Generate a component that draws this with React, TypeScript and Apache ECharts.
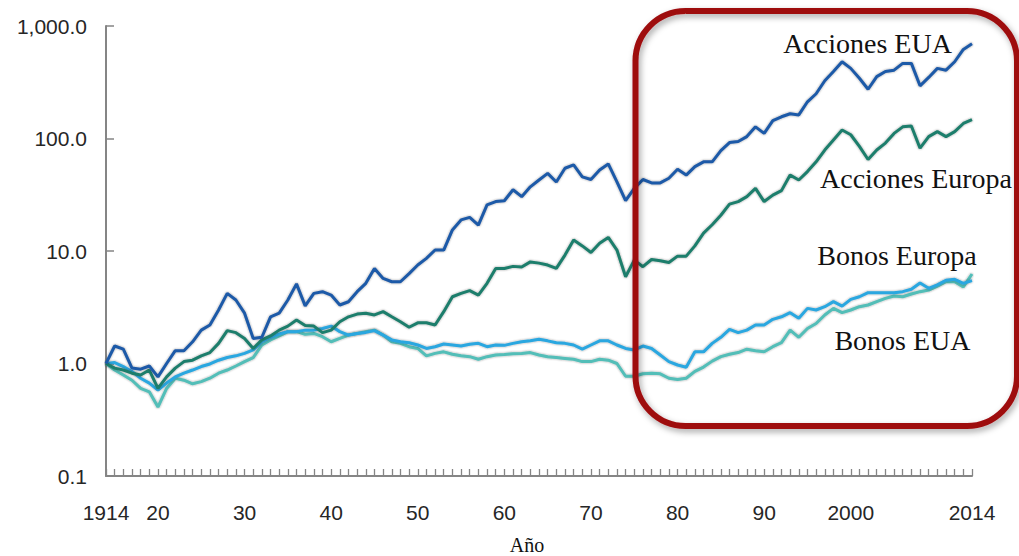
import React, { useEffect, useRef } from "react";
import * as echarts from "echarts";

// Years on the horizontal axis, 1914 through 2014
const years: number[] = Array.from({ length: 101 }, (_, i) => 1914 + i);

// Tick labels shown under the x axis
const xTickLabels: Record<number, string> = {
  1914: "1914",
  1920: "20",
  1930: "30",
  1940: "40",
  1950: "50",
  1960: "60",
  1970: "70",
  1980: "80",
  1990: "90",
  2000: "2000",
  2014: "2014",
};

// Tick labels on the logarithmic y axis (0.1 … 1,000)
const yTickLabels: string[] = ["0.1", "1.0", "10.0", "100.0", "1,000.0"];

// Cumulative value of 1 unit invested in 1914
const accionesEUA: number[] = [
  1.0, 1.43, 1.34, 0.91, 0.89, 0.95, 0.76, 1.0, 1.3, 1.3,
  1.56, 1.98, 2.2, 2.99, 4.2, 3.67, 2.8, 1.67, 1.71, 2.6,
  2.8, 3.67, 5.1, 3.25, 4.2, 4.35, 4.06, 3.31, 3.54, 4.35,
  5.16, 7.0, 5.7, 5.33, 5.33, 6.3, 7.5, 8.6, 10.2, 10.2,
  15.4, 18.9, 19.9, 17.0, 25.7, 27.5, 28.0, 35.0, 30.4, 37.2,
  42.8, 49.0, 41.1, 54.4, 58.2, 45.6, 43.2, 52.4, 59.4, 41.1,
  28.0, 36.0, 43.2, 40.3, 40.3, 44.3, 53.3, 47.3, 56.2, 62,
  62, 78, 92, 94, 104, 127, 111, 144, 156, 166,
  162, 212, 250, 326, 394, 481, 420, 343, 274, 355,
  394, 405, 465, 465, 294, 349, 420, 405, 481, 619,
  695,
];

const accionesEuropa: number[] = [
  1.0, 0.91, 0.875, 0.82, 0.79, 0.875, 0.6, 0.76, 0.91, 1.04,
  1.07, 1.17, 1.25, 1.51, 1.96, 1.88, 1.67, 1.36, 1.62, 1.76,
  1.98, 2.15, 2.44, 2.18, 2.15, 1.88, 1.98, 2.35, 2.6, 2.75,
  2.8, 2.7, 2.89, 2.6, 2.35, 2.1, 2.3, 2.3, 2.2, 2.89,
  3.92, 4.2, 4.44, 4.06, 5.16, 7.0, 7.0, 7.3, 7.2, 8.0,
  7.8, 7.5, 7.0, 9.2, 12.5, 11.1, 9.7, 11.7, 13.2, 10.2,
  5.9, 8.3, 7.25, 8.4, 8.2, 7.9, 9.0, 9.0, 11.1, 14.4,
  17.1, 20.8, 26.1, 27.5, 30.4, 36.0, 27.5, 31.4, 34.4, 47.3,
  42.8, 50.8, 62, 79, 97, 119, 108, 85, 65, 79,
  91, 111, 127, 129, 82, 104, 115, 104, 115, 136,
  147,
];

const bonosEUA: number[] = [
  1.0, 1.02, 0.94, 0.85, 0.74, 0.67, 0.58, 0.67, 0.76, 0.82,
  0.875, 0.94, 0.99, 1.07, 1.13, 1.17, 1.23, 1.32, 1.56, 1.71,
  1.83, 1.92, 1.92, 1.98, 1.98, 2.05, 2.15, 1.92, 1.79, 1.85,
  1.89, 1.96, 1.79, 1.62, 1.56, 1.53, 1.46, 1.36, 1.41, 1.49,
  1.46, 1.43, 1.48, 1.51, 1.41, 1.46, 1.45, 1.51, 1.56, 1.59,
  1.64, 1.59, 1.53, 1.51, 1.46, 1.34, 1.46, 1.59, 1.59, 1.46,
  1.36, 1.32, 1.43, 1.36, 1.19, 1.04, 0.97, 0.925, 1.27, 1.27,
  1.51, 1.71, 2.01, 1.88, 1.98, 2.2, 2.2, 2.47, 2.6, 2.83,
  2.52, 3.09, 2.99, 3.2, 3.55, 3.24, 3.72, 3.92, 4.26, 4.26,
  4.26, 4.26, 4.35, 4.57, 5.2, 4.66, 5.0, 5.5, 5.6, 5.16,
  5.45,
];

const bonosEuropa: number[] = [
  1.0, 0.875, 0.79, 0.71, 0.6, 0.56, 0.41, 0.6, 0.74, 0.71,
  0.66, 0.69, 0.74, 0.82, 0.875, 0.95, 1.04, 1.13, 1.46, 1.62,
  1.76, 1.92, 1.92, 1.82, 1.85, 1.73, 1.56, 1.67, 1.79, 1.85,
  1.92, 1.98, 1.79, 1.56, 1.51, 1.41, 1.36, 1.17, 1.23, 1.27,
  1.21, 1.17, 1.15, 1.09, 1.15, 1.19, 1.2, 1.22, 1.23, 1.25,
  1.19, 1.15, 1.13, 1.11, 1.09, 1.04, 1.04, 1.09, 1.07, 1.0,
  0.77, 0.77, 0.81, 0.82, 0.81, 0.74, 0.72, 0.74, 0.85, 0.93,
  1.05, 1.15, 1.21, 1.25, 1.34, 1.3, 1.27, 1.41, 1.53, 1.98,
  1.71, 2.05, 2.27, 2.7, 3.09, 2.83, 2.99, 3.2, 3.31, 3.55,
  3.79, 3.98, 3.92, 4.15, 4.35, 4.5, 4.88, 5.33, 5.33, 4.8,
  6.25,
];

const seriesDefs = [
  { name: "Bonos Europa", color: "#52BEB8", values: bonosEuropa },
  { name: "Bonos EUA", color: "#2AA7E0", values: bonosEUA },
  { name: "Acciones Europa", color: "#1E7E6C", values: accionesEuropa },
  { name: "Acciones EUA", color: "#1F5AA8", values: accionesEUA },
];

const AXIS_GREY = "#858585";
const LABEL_COLOR = "#262626";
const SANS = "'Liberation Sans', Arial, sans-serif";
const SERIF = "'Liberation Serif', 'Times New Roman', serif";

export default function App() {
  const ref = useRef<HTMLDivElement>(null);

  useEffect(() => {
    if (!ref.current) return;
    const chart = echarts.init(ref.current, undefined, { renderer: "svg" });

    const lineLabel = (text: string, x: number, y: number) => ({
      type: "text",
      x,
      y,
      z: 50,
      style: {
        text,
        fill: "#111111",
        font: `28px ${SERIF}`,
        textAlign: "center",
        textVerticalAlign: "middle",
      },
    });

    chart.setOption({
      animation: false,
      backgroundColor: "#ffffff",
      grid: { left: 106, right: 47, top: 26, bottom: 80, containLabel: false },
      xAxis: {
        type: "value",
        min: 1914,
        max: 2014,
        interval: 1,
        splitLine: { show: false },
        axisLine: { show: true, lineStyle: { color: AXIS_GREY, width: 2 } },
        axisTick: { show: true, inside: true, length: 7, lineStyle: { color: AXIS_GREY, width: 1.3 } },
        axisLabel: {
          show: true,
          margin: 26,
          color: LABEL_COLOR,
          fontFamily: SANS,
          fontSize: 21,
          formatter: (v: number) => xTickLabels[Math.round(v)] ?? "",
        },
      },
      yAxis: {
        type: "log",
        logBase: 10,
        min: 0.1,
        max: 1000,
        splitLine: { show: false },
        axisLine: { show: true, lineStyle: { color: AXIS_GREY, width: 2 } },
        axisTick: { show: true, inside: true, length: 8, lineStyle: { color: AXIS_GREY, width: 1.5 } },
        axisLabel: {
          margin: 19,
          color: LABEL_COLOR,
          fontFamily: SANS,
          fontSize: 21,
          formatter: (v: number) => yTickLabels[Math.round(Math.log10(v)) + 1] ?? "",
        },
      },
      series: seriesDefs.map((s) => ({
        name: s.name,
        type: "line",
        symbol: "none",
        smooth: false,
        data: years.map((yr, i) => [yr, s.values[i]]),
        lineStyle: {
          color: s.color,
          width: 3,
          shadowColor: "rgba(40,40,40,0.45)",
          shadowBlur: 2,
        },
        itemStyle: { color: s.color },
      })),
      graphic: [
        {
          type: "rect",
          z: 100,
          shape: { x: 635.5, y: 11, width: 381.5, height: 415, r: 50 },
          style: {
            fill: "none",
            stroke: "#9E0A0E",
            lineWidth: 6,
            shadowBlur: 6,
            shadowColor: "rgba(0,0,0,0.35)",
            shadowOffsetX: 2,
            shadowOffsetY: 3,
          },
        },
        lineLabel("Acciones EUA", 867.5, 43),
        lineLabel("Acciones Europa", 916, 178.5),
        lineLabel("Bonos Europa", 897, 255),
        lineLabel("Bonos EUA", 902.5, 340),
        {
          type: "text",
          x: 527,
          y: 545,
          style: {
            text: "Año",
            fill: "#111111",
            font: `20px ${SERIF}`,
            textAlign: "center",
            textVerticalAlign: "middle",
          },
        },
      ],
    });

    return () => chart.dispose();
  }, []);

  return (
    <div
      ref={ref}
      style={{ position: "fixed", left: 0, top: 0, width: 1019, height: 556, background: "#fff" }}
    />
  );
}
